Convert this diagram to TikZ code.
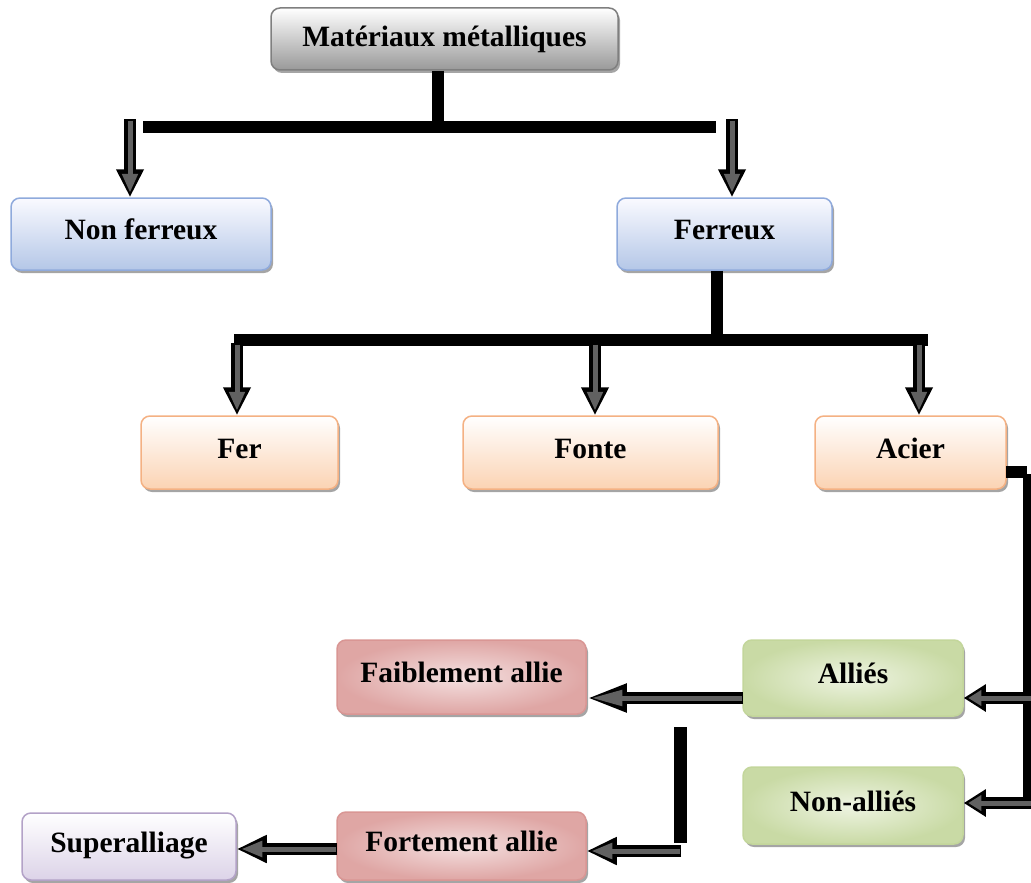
\documentclass[tikz,border=0pt]{standalone}
\usepackage{fontspec}
\setmainfont{Liberation Serif}
\usetikzlibrary{arrows.meta,shadows}
\definecolor{grayB}{HTML}{7F7F7F}
\definecolor{blueB}{HTML}{8FAADC}
\definecolor{blueF}{HTML}{B4C7E7}
\definecolor{orB}{HTML}{F4B183}
\definecolor{orF}{HTML}{FBD3B3}
\definecolor{redB}{HTML}{D99694}
\definecolor{redF}{HTML}{F4E0E0}
\definecolor{grB}{HTML}{C3D69B}
\definecolor{grF}{HTML}{EEF4E2}
\definecolor{puB}{HTML}{B3A2C7}
\definecolor{puF}{HTML}{DCD3E8}
\tikzset{
  box/.style={rounded corners=9pt, line width=1.5pt, font=\fontsize{29.5}{34}\selectfont\bfseries,
    inner sep=0pt, text height=21pt, text depth=10pt,
    drop shadow={shadow xshift=2pt, shadow yshift=-3pt, opacity=0.5, fill=black!70}},
  grbox/.style={box, draw=grayB, top color=white, bottom color=black!40},
  bluebox/.style={box, draw=blueB, top color=blue!2!white, bottom color=blueF},
  orbox/.style={box, draw=orB, top color=white, bottom color=orF},
  redbox/.style={box, draw=redB, inner color=redF, outer color=redB!85!white},
  greenbox/.style={box, draw=grB, inner color=grF, outer color=grB!90!white},
  purbox/.style={box, draw=puB, top color=white, bottom color=puF},
  bar/.style={line width=12pt, black},
  barR/.style={line width=9pt, black},
  outerarr/.style={line width=12pt, black, -{Triangle[length=#1,width=26pt]}},
  outerarr/.default=28pt,
  innerarr/.style={line width=5pt, black!62, shorten >=4.5pt, shorten <=1.5pt, -{Triangle[length=#1,width=15pt]}},
  innerarr/.default=19pt,
}
\newcommand{\barrow}[3][28pt]{%
  \draw[outerarr=#1] (#2) -- (#3);
  \draw[innerarr={#1-9pt}] (#2) -- (#3);}
\begin{document}
\begin{tikzpicture}[x=1pt,y=-1pt]
\useasboundingbox (0,0) rectangle (1031,883);
% nodes
\node[grbox, minimum width=347pt, minimum height=62pt, text height=23pt, text depth=8pt] (mat) at (444.5,39) {Matériaux métalliques};
\node[bluebox, minimum width=260pt, minimum height=72pt] (nf) at (141,234) {Non ferreux};
\node[bluebox, minimum width=215pt, minimum height=72pt] (fe) at (724.5,234) {Ferreux};
\node[orbox, minimum width=197pt, minimum height=73pt] (fer) at (239.5,452.5) {Fer};
\node[orbox, minimum width=255pt, minimum height=73pt] (fon) at (590.5,452.5) {Fonte};
\node[orbox, minimum width=191pt, minimum height=73pt] (aci) at (910.5,452.5) {Acier};
\node[redbox, minimum width=249pt, minimum height=74pt] (fai) at (461.5,677) {Faiblement allie};
\node[greenbox, minimum width=220pt, minimum height=76pt] (all) at (853,678) {Alliés};
\node[greenbox, minimum width=220pt, minimum height=77pt] (nal) at (853,805.5) {Non-alliés};
\node[redbox, minimum width=249pt, minimum height=68pt] (for) at (461.5,846) {Fortement allie};
\node[purbox, minimum width=214pt, minimum height=67pt] (sup) at (129,846.5) {Superalliage};
% level 1
\coordinate (t1) at (438,127);
\coordinate (t1L) at (143,127);
\coordinate (t1R) at (716,127);
\draw[bar] (mat.south -| t1) -- (t1);
\draw[bar] (t1L) -- (t1R);
\coordinate (a1) at (130,119);
\coordinate (a2) at (732,119);
\barrow{a1}{nf.north -| a1}
\barrow{a2}{fe.north -| a2}
% level 2
\coordinate (t2) at (717,340);
\coordinate (t2L) at (234,340);
\coordinate (t2R) at (928,340);
\draw[bar] (fe.south -| t2) -- (t2);
\draw[bar] (t2L) -- (t2R);
\coordinate (b1) at (237,343);
\coordinate (b2) at (595,343);
\coordinate (b3) at (919,343);
\barrow{b1}{fer.north -| b1}
\barrow{b2}{fon.north -| b2}
\barrow{b3}{aci.north -| b3}
% acier branch
\coordinate (c0) at (1006,472);
\coordinate (c1) at (1027,474);
\coordinate (c2) at (1027,804);
\coordinate (c3) at (1033,698);
\coordinate (c4) at (1033,803);
\draw[bar] (c0) -- (c1 |- c0) ;
\draw[barR] (c1) -- (c2);
\barrow[22pt]{c3}{all.east |- c3}
\barrow[22pt]{c4}{nal.east |- c4}
% allies branch
\coordinate (d0) at (743,698);
\barrow[40pt]{d0}{fai.east |- d0}
\coordinate (e0) at (680,727);
\coordinate (e1) at (680,843);
\draw[line width=13pt] (e0) -- (e1);
\coordinate (e2) at (681,851);
\barrow[30pt]{e2}{for.east |- e2}
\coordinate (f0) at (337,849);
\barrow[30pt]{f0}{sup.east |- f0}
\end{tikzpicture}
\end{document}
